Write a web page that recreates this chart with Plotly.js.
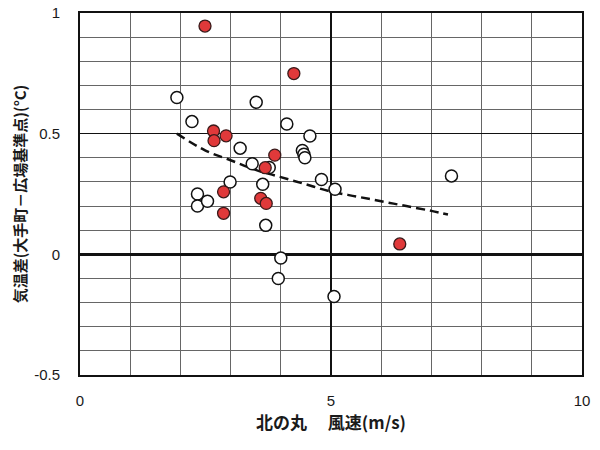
<!DOCTYPE html>
<html><head><meta charset="utf-8">
<script src="https://cdn.plot.ly/plotly-3.0.1.min.js"></script>
<style>html,body{margin:0;padding:0;background:#fff}#chart{width:600px;height:450px}</style>
</head><body><div id="chart"></div>
<script>
// Open circles (white)
const openX = [1.93, 2.23, 3.51, 4.12, 3.19, 4.58, 4.43, 4.46, 4.48, 3.43, 3.77, 3.64, 2.99, 2.34, 2.34, 2.54, 3.70, 4.81, 5.08, 7.40, 4.00, 3.95, 5.06];
const openY = [0.65, 0.55, 0.63, 0.54, 0.44, 0.49, 0.43, 0.415, 0.40, 0.375, 0.36, 0.29, 0.30, 0.25, 0.20, 0.22, 0.12, 0.31, 0.27, 0.325, -0.015, -0.10, -0.175];
// Red circles
const redX = [2.49, 4.26, 2.66, 2.67, 2.91, 3.88, 3.69, 2.86, 2.86, 3.60, 3.71, 6.37];
const redY = [0.946, 0.749, 0.511, 0.471, 0.491, 0.411, 0.359, 0.259, 0.17, 0.232, 0.211, 0.043];
// Dashed trend curve
const trendX = [1.93, 2.5, 3.0, 3.5, 4.0, 4.5, 5.0, 5.5, 6.0, 6.5, 7.0, 7.33];
const trendY = [0.50, 0.43, 0.39, 0.35, 0.32, 0.29, 0.26, 0.24, 0.22, 0.20, 0.18, 0.165];

const xTicks = [0, 5, 10];
const yTicks = [-0.5, 0, 0.5, 1];
const xTitle = '北の丸　 風速(m/s)';
const yTitle = '気温差(大手町－広場基準点)(°C)';

const traces = [
  {x: trendX, y: trendY, mode: 'lines', line: {color: '#111', width: 2.5, dash: '9px,5px', shape: 'spline'}, hoverinfo: 'skip'},
  {x: openX, y: openY, mode: 'markers', marker: {size: 12, color: '#fff', line: {color: '#111', width: 1.5}}},
  {x: redX, y: redY, mode: 'markers', marker: {size: 12, color: '#e0393a', line: {color: '#3a1a1a', width: 1.3}}}
];

const tickFont = {family: 'Liberation Sans, Arial, sans-serif', size: 15, color: '#1a1a1a'};
const xTitleFont = {family: 'Noto Sans CJK JP, sans-serif', size: 17, color: '#1a1a1a', weight: 'bold'};
const yTitleFont = {family: 'Noto Sans CJK JP, sans-serif', size: 15, color: '#1a1a1a', weight: 'bold'};

const layout = {
  width: 600, height: 450,
  margin: {l: 80, r: 18, t: 13, b: 75},
  paper_bgcolor: '#fff', plot_bgcolor: '#fff',
  showlegend: false,
  xaxis: {
    range: [0, 10], tickvals: xTicks, ticktext: xTicks.map(String),
    showgrid: true, gridcolor: '#111', gridwidth: 1.6,
    minor: {dtick: 1, showgrid: true, gridcolor: '#666', gridwidth: 1, ticks: ''},
    zeroline: false,
    showline: true, mirror: true, linecolor: '#111', linewidth: 2,
    ticks: 'outside', ticklen: 11, tickcolor: 'rgba(0,0,0,0)',
    tickfont: tickFont,
    title: {text: xTitle, font: xTitleFont, standoff: 6}
  },
  yaxis: {
    range: [-0.5, 1], tickvals: yTicks, ticktext: ['-0.5', '0', '0.5', '1'],
    showgrid: true, gridcolor: '#111', gridwidth: 1.6,
    minor: {dtick: 0.1, showgrid: true, gridcolor: '#666', gridwidth: 1, ticks: ''},
    zeroline: true, zerolinecolor: '#111', zerolinewidth: 3,
    showline: true, mirror: true, linecolor: '#111', linewidth: 2,
    ticks: 'outside', ticklen: 15, tickcolor: 'rgba(0,0,0,0)',
    tickfont: tickFont,
    title: {text: yTitle, font: yTitleFont, standoff: 4}
  }
};

Plotly.newPlot('chart', traces, layout, {displayModeBar: false, staticPlot: true});
</script></body></html>
